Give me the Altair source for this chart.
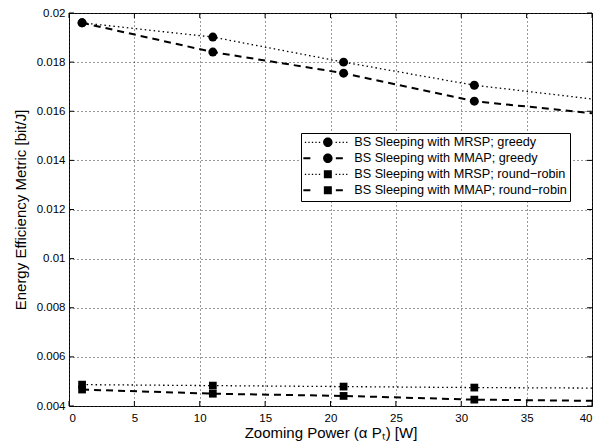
import altair as alt
import pandas as pd

# Zooming power (x) at which each curve is sampled; markers sit on the first four
x_line = [1, 11, 21, 31, 40]
x_marker = [1, 11, 21, 31]

series_names = [
    "BS Sleeping with MRSP; greedy",
    "BS Sleeping with MMAP; greedy",
    "BS Sleeping with MRSP; round−robin",
    "BS Sleeping with MMAP; round−robin",
]

# Energy efficiency metric [bit/J] per series
mrsp_greedy = [0.01960, 0.01902, 0.01800, 0.01706, 0.01650]
mmap_greedy = [0.01960, 0.01841, 0.01755, 0.01641, 0.01592]
mrsp_rr = [0.00487, 0.00483, 0.00479, 0.00475, 0.00473]
mmap_rr = [0.00467, 0.00450, 0.00441, 0.00426, 0.00421]

x_ticks = [0, 5, 10, 15, 20, 25, 30, 35, 40]
y_ticks = [0.004, 0.006, 0.008, 0.01, 0.012, 0.014, 0.016, 0.018, 0.02]

W, H = 523, 393
FONT = "Liberation Sans"

rows = []
for name, vals in zip(series_names, [mrsp_greedy, mmap_greedy, mrsp_rr, mmap_rr]):
    for x, v in zip(x_line, vals):
        rows.append({"x": x, "y": v, "series": name,
                     "marker": x in x_marker,
                     "kind": "greedy" if "greedy" in name else "rr",
                     "method": "MRSP" if "MRSP" in name else "MMAP"})
df = pd.DataFrame(rows)

xscale = alt.Scale(domain=[0, 40], nice=False, zero=False)
yscale = alt.Scale(domain=[0.004, 0.02], nice=False, zero=False)

x_axis = alt.Axis(values=x_ticks, title="Zooming Power (α Pₜ) [W]", grid=True,
                  gridDash=[1, 3], gridColor="#333", gridWidth=1, ticks=False,
                  domain=False, labelFont=FONT, labelFontSize=11.5, labelColor="black",
                  labelPadding=6, titleFont=FONT, titleFontSize=15,
                  titleFontWeight="normal", titleColor="black", titlePadding=2)
y_axis = alt.Axis(values=y_ticks, format="~g", title="Energy Efficiency Metric [bit/J]",
                  grid=True, gridDash=[1, 3], gridColor="#333", gridWidth=1,
                  ticks=False, domain=False, labelFont=FONT, labelFontSize=11.5,
                  labelColor="black", labelPadding=4, titleFont=FONT,
                  titleFontSize=15, titleFontWeight="normal", titleColor="black",
                  titlePadding=8)


# Legend glyphs (unit = 5 px), built from filled pieces: line pattern + marker
def rect(x0, w, h):
    return "M%.2f,%.2fh%.2fv%.2fh%.2fZ" % (x0, -h / 2, w, h, -w)


dots = "".join(rect(p, 0.26, 0.26) for p in [-4.6, -3.9, -3.2, -2.5, -1.8, 1.55, 2.25, 2.95, 3.65])
dashes = rect(-4.9, 1.4, 0.4) + rect(1.6, 1.4, 0.4)
circle = "M0.95,0A0.95,0.95,0,1,1,-0.95,0A0.95,0.95,0,1,1,0.95,0Z"
square = "M-0.8,-0.8H0.8V0.8H-0.8Z"

glyph_expr = (
    "indexof(datum.value, 'MRSP') >= 0 ? "
    "(indexof(datum.value, 'greedy') >= 0 ? '{dc}' : '{ds}') : "
    "(indexof(datum.value, 'greedy') >= 0 ? '{hc}' : '{hs}')"
).format(dc=dots + circle, ds=dots + square, hc=dashes + circle, hs=dashes + square)

legend = alt.Legend(
    title=None, orient="none", legendX=232, legendY=120,
    symbolSize=100, symbolOffset=17.5, labelOffset=20,
    symbolType={"expr": glyph_expr}, symbolStrokeWidth=0,
    symbolFillColor="black", symbolStrokeColor="transparent", symbolOpacity=1,
    labelFont=FONT, labelFontSize=12.7, labelColor="black", labelLimit=0,
    padding=3, rowPadding=2, strokeColor="black", fillColor="white",
    cornerRadius=0,
)

dash_scale = alt.Scale(domain=series_names, range=[[1.5, 3], [7, 5], [1.5, 3], [7, 5]])

base = alt.Chart(df)


def line_layer(method, width):
    return base.transform_filter(alt.datum.method == method).mark_line(
        color="black", strokeWidth=width
    ).encode(
        x=alt.X("x:Q", scale=xscale, axis=x_axis),
        y=alt.Y("y:Q", scale=yscale, axis=y_axis),
        strokeDash=alt.StrokeDash("series:N", scale=dash_scale, legend=legend),
    )


lines_mrsp = line_layer("MRSP", 1.3)
lines_mmap = line_layer("MMAP", 2)

circles = base.transform_filter(
    (alt.datum.marker == True) & (alt.datum.kind == "greedy")
).mark_point(shape="circle", filled=True, color="black", opacity=1, size=80).encode(
    x="x:Q", y="y:Q", detail="series:N")

squares = base.transform_filter(
    (alt.datum.marker == True) & (alt.datum.kind == "rr")
).mark_point(shape="square", filled=True, color="black", opacity=1, size=60).encode(
    x="x:Q", y="y:Q", detail="series:N")

# Inward tick marks on all four sides of the box
xt = alt.Chart(pd.DataFrame({"x": x_ticks}))
yt = alt.Chart(pd.DataFrame({"y": y_ticks}))
tick_bottom = xt.mark_rule(color="black").encode(x="x:Q", y=alt.value(H), y2=alt.value(H - 5))
tick_top = xt.mark_rule(color="black").encode(x="x:Q", y=alt.value(0), y2=alt.value(5))
tick_left = yt.mark_rule(color="black").encode(y="y:Q", x=alt.value(0), x2=alt.value(5))
tick_right = yt.mark_rule(color="black").encode(y="y:Q", x=alt.value(W), x2=alt.value(W - 5))

chart = alt.layer(
    tick_bottom, tick_top, tick_left, tick_right, lines_mrsp, lines_mmap, circles, squares
).properties(
    width=W, height=H,
    autosize=alt.AutoSizeParams(type="none"),
    padding={"left": 69, "top": 13, "right": 11, "bottom": 39},
    background="white",
).configure_view(stroke="black", strokeWidth=1)

chart.save("out.html", embed_options={"renderer": "svg", "actions": False})
